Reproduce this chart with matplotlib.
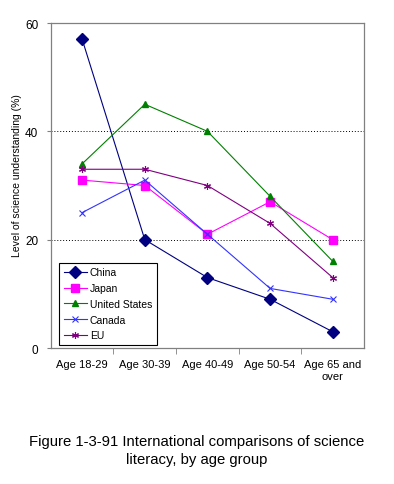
import matplotlib
matplotlib.use('Agg')
import matplotlib.pyplot as plt

plt.rcParams['font.family'] = ['Liberation Sans', 'DejaVu Sans']

# data
age_groups = ['Age 18-29', 'Age 30-39', 'Age 40-49', 'Age 50-54', 'Age 65 and\nover']
china = [57, 20, 13, 9, 3]
japan = [31, 30, 21, 27, 20]
united_states = [34, 45, 40, 28, 16]
canada = [25, 31, 21, 11, 9]
eu = [33, 33, 30, 23, 13]

fig = plt.figure(figsize=(3.94, 4.85), dpi=100)
ax = fig.add_axes([0.129, 0.2804, 0.795, 0.6701])

x = list(range(len(age_groups)))

ax.plot(x, china, color='#000080', lw=0.8, marker='D', ms=6, label='China')
ax.plot(x, japan, color='#FF00FF', lw=0.8, marker='s', ms=6, label='Japan')
ax.plot(x, united_states, color='#008000', lw=0.8, marker='^', ms=4.5, label='United States')
ax.plot(x, canada, color='#3333FF', lw=0.8, marker='x', ms=5, mew=0.8, label='Canada')
ax.plot(x, eu, color='#800080', lw=0.8, marker=(6, 2, 0), ms=5, mew=0.8, label='EU')

ax.set_xlim(-0.5, len(age_groups) - 0.5)
ax.set_ylim(0, 60)
ax.set_yticks([0, 20, 40, 60])
for yv in [20, 40]:
    ax.axhline(yv, color='black', lw=0.7, ls=(0, (1, 2)), zorder=0)

ax.set_xticks(x)
ax.set_xticklabels(age_groups, fontsize=8)
ax.tick_params(axis='x', which='major', length=0, pad=8)
ax.set_xticks([i + 0.5 for i in x[:-1]], minor=True)
ax.tick_params(axis='x', which='minor', length=4, direction='out', color='#808080')
ax.tick_params(axis='y', labelsize=8.5, length=3, direction='out', color='#808080', pad=6)

for s in ax.spines.values():
    s.set_color('#808080')
    s.set_linewidth(0.9)

ax.set_ylabel('Level of science understanding (%)', fontsize=7.5)
ax.yaxis.set_label_coords(-0.093, 0.535)

leg = ax.legend(loc='lower left', bbox_to_anchor=(0.026, 0.009), borderaxespad=0,
                fontsize=7.5, fancybox=False, framealpha=1, edgecolor='black',
                handlelength=2.2, labelspacing=0.55, borderpad=0.45, handletextpad=0.3)
leg.get_frame().set_linewidth(0.8)

fig.text(0.5, 1 - 451 / 485, 'Figure 1-3-91 International comparisons of science\nliteracy, by age group',
         ha='center', va='center', fontsize=10.7, linespacing=1.3)

fig.savefig('out.png', dpi=100)
